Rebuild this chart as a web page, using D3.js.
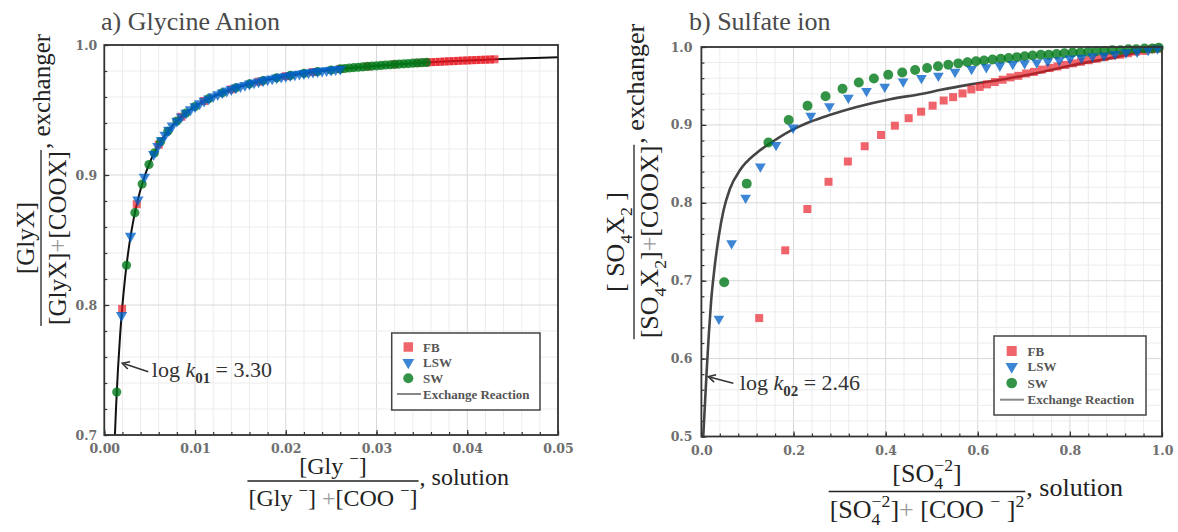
<!DOCTYPE html>
<html><head><meta charset="utf-8">
<script src="https://cdn.jsdelivr.net/npm/d3@7"></script>
<style>body{margin:0;background:#fff}svg{display:block}text{white-space:pre}</style>
</head><body><svg id="c" width="1178" height="532"></svg>
<script>
// ---------------- DATA ----------------
const seriesNames = ["FB", "LSW", "SW", "Exchange Reaction"];
// Panel a) Glycine anion
const xTicksA = [0, 0.01, 0.02, 0.03, 0.04, 0.05];
const yTicksA = [0.7, 0.8, 0.9, 1.0];
const curveA = [[0.0011,0.687],[0.00117,0.700],[0.0013,0.722],[0.0015,0.7498],[0.00175,0.7776],[0.002,0.7999],[0.00225,0.8182],[0.0025,0.8333],[0.00275,0.8462],[0.003,0.8572],[0.0035,0.8751],[0.004,0.8890],[0.0045,0.9002],[0.005,0.9093],[0.0055,0.9169],[0.006,0.9233],[0.0065,0.9288],[0.007,0.9336],[0.008,0.9415],[0.009,0.9477],[0.010,0.9527],[0.0115,0.9587],[0.013,0.9633],[0.015,0.9681],[0.0175,0.9726],[0.020,0.9760],[0.0225,0.9787],[0.025,0.9808],[0.0275,0.9826],[0.030,0.9840],[0.0325,0.9853],[0.035,0.9864],[0.0375,0.9873],[0.040,0.9881],[0.0425,0.9888],[0.045,0.9895],[0.0475,0.9900],[0.050,0.9906]];
const FB_A = [[0.00196,0.797],[0.00358,0.8775],[0.0060,0.9233],[0.0085,0.9448],[0.0110,0.9569],[0.0140,0.9659],[0.0170,0.9718],[0.0200,0.9760],[0.0230,0.9792],[0.0260,0.9816],[0.0290,0.9835],[0.0320,0.9851],[0.0345,0.9862],[0.0355,0.9866],[0.0360,0.9868],[0.0365,0.9869],[0.0370,0.9871],[0.0375,0.9873],[0.0380,0.9875],[0.0385,0.9876],[0.0390,0.9878],[0.0395,0.9880],[0.0400,0.9881],[0.0405,0.9883],[0.0410,0.9884],[0.0415,0.9886],[0.0420,0.9887],[0.0425,0.9888],[0.0430,0.9890]];
const LSW_A = [[0.0019,0.792],[0.0029,0.853],[0.0037,0.881],[0.00442,0.8985],[0.00544,0.916],[0.0059,0.9221],[0.0063,0.9267],[0.0067,0.9308],[0.0071,0.9345],[0.0075,0.9378],[0.0080,0.9415],[0.0085,0.9448],[0.0090,0.9477],[0.0095,0.9503],[0.0100,0.9527],[0.0105,0.9549],[0.0110,0.9569],[0.0115,0.9587],[0.0120,0.9604],[0.0125,0.9619],[0.0130,0.9633],[0.0135,0.9647],[0.0140,0.9659],[0.0145,0.9671],[0.0150,0.9681],[0.0155,0.9691],[0.0160,0.9701],[0.0165,0.9710],[0.0170,0.9718],[0.0175,0.9726],[0.0180,0.9734],[0.0185,0.9741],[0.0190,0.9748],[0.0195,0.9754],[0.0200,0.9760],[0.0205,0.9766],[0.0210,0.9772],[0.0215,0.9777],[0.0220,0.9782],[0.0225,0.9787],[0.0230,0.9792],[0.0235,0.9796],[0.0240,0.9800],[0.0245,0.9804],[0.0250,0.9808],[0.0255,0.9812],[0.0260,0.9816]];
const SW_A = [[0.00137,0.733],[0.00245,0.8306],[0.00337,0.871],[0.00417,0.893],[0.00492,0.908],[0.00551,0.917],[0.0062,0.9256],[0.0070,0.9336],[0.0080,0.9415],[0.0090,0.9477],[0.0100,0.9527],[0.0115,0.9587],[0.0130,0.9633],[0.0145,0.9671],[0.0160,0.9701],[0.0175,0.9726],[0.0190,0.9748],[0.0205,0.9766],[0.0220,0.9782],[0.0235,0.9796],[0.0250,0.9808],[0.0260,0.9816],[0.0265,0.9819],[0.0270,0.9823],[0.0275,0.9826],[0.0280,0.9829],[0.0285,0.9832],[0.0290,0.9835],[0.0295,0.9838],[0.0300,0.9840],[0.0305,0.9843],[0.0310,0.9846],[0.0315,0.9848],[0.0320,0.9851],[0.0325,0.9853],[0.0330,0.9855],[0.0335,0.9857],[0.0340,0.9860],[0.0345,0.9862],[0.0350,0.9864],[0.0355,0.9866]];

// Panel b) Sulfate ion
const xTicksB = [0, 0.2, 0.4, 0.6, 0.8, 1.0];
const yTicksB = [0.5, 0.6, 0.7, 0.8, 0.9, 1.0];
const curveB = [[0.004,0.50],[0.008,0.545],[0.012,0.59],[0.016,0.63],[0.021,0.673],[0.028,0.714],[0.038,0.758],[0.048,0.790],[0.062,0.818],[0.084,0.842],[0.12,0.864],[0.156,0.879],[0.192,0.892],[0.236,0.904],[0.28,0.913],[0.337,0.923],[0.41,0.933],[0.48,0.940],[0.52,0.945],[0.585,0.952],[0.66,0.959],[0.74,0.968],[0.80,0.976],[0.90,0.987],[1.0,1.0]];
const FB_B = [[0.1255,0.652],[0.182,0.739],[0.230,0.792],[0.276,0.827],[0.318,0.853],[0.3545,0.8726],[0.390,0.887],[0.420,0.899],[0.450,0.9086],[0.477,0.917],[0.502,0.9247],[0.526,0.9313],[0.5465,0.9356],[0.567,0.9404],[0.586,0.9456],[0.604,0.9487],[0.620,0.952],[0.637,0.955],[0.654,0.958],[0.671,0.961],[0.688,0.963],[0.705,0.966],[0.722,0.968],[0.739,0.971],[0.756,0.973],[0.773,0.975],[0.790,0.977],[0.807,0.979],[0.824,0.981],[0.841,0.983],[0.858,0.985],[0.875,0.987],[0.892,0.989],[0.909,0.990],[0.926,0.992],[0.943,0.994],[0.960,0.995],[0.977,0.997],[0.990,0.998]];
const LSW_B = [[0.038,0.651],[0.0656,0.748],[0.096,0.8064],[0.128,0.8464],[0.162,0.874],[0.199,0.8964],[0.2375,0.9117],[0.278,0.9238],[0.319,0.9347],[0.3584,0.9435],[0.398,0.949],[0.438,0.9556],[0.4777,0.960],[0.5145,0.963],[0.5506,0.968],[0.5866,0.9717],[0.6185,0.974],[0.648,0.976],[0.676,0.978],[0.7017,0.979],[0.728,0.980],[0.752,0.9817],[0.777,0.983],[0.800,0.985],[0.825,0.986],[0.849,0.988],[0.874,0.989],[0.898,0.991],[0.922,0.993],[0.946,0.994],[0.970,0.996],[0.990,0.998]];
const SW_B = [[0.0495,0.698],[0.0984,0.8246],[0.1455,0.8773],[0.1895,0.9064],[0.2304,0.9247],[0.2696,0.9369],[0.3064,0.9465],[0.3417,0.9543],[0.3745,0.9595],[0.4056,0.9643],[0.436,0.9673],[0.464,0.9704],[0.490,0.973],[0.5137,0.9752],[0.536,0.9773],[0.5577,0.979],[0.5777,0.9804],[0.5962,0.9817],[0.6136,0.9826],[0.632,0.9839],[0.650,0.985],[0.667,0.986],[0.685,0.987],[0.702,0.988],[0.719,0.989],[0.737,0.990],[0.754,0.990],[0.771,0.991],[0.788,0.992],[0.806,0.993],[0.823,0.993],[0.840,0.994],[0.858,0.995],[0.875,0.995],[0.892,0.996],[0.910,0.996],[0.927,0.997],[0.944,0.997],[0.962,0.998],[0.979,0.998],[0.993,0.999]];

// ---------------- STYLE ----------------
const SERIF = "'Liberation Serif','Times New Roman',serif";
const TICKF = "'DejaVu Serif',serif";
const style = {
  FB:  {sym: d3.symbolSquare,   color: "#e8141e", op: 0.66, rot: 0},
  LSW: {sym: d3.symbolTriangle, color: "#0060c8", op: 0.76, rot: 180},
  SW:  {sym: d3.symbolCircle,   color: "#007818", op: 0.8,  rot: 0}
};
const svg = d3.select("#c");

function mathRow(g, segs, size) {
  let x = 0, lastStart = 0;
  segs.forEach(s => {
    const sc = s.sc || 1;
    const start = s.stack ? lastStart : x;
    const t = g.append("text").attr("x", start).attr("y", (s.dy || 0) * size)
      .attr("font-size", size * sc).attr("fill", s.fill || "#222").text(s.t);
    if (s.it) t.attr("font-style", "italic");
    if (s.b) t.attr("font-weight", "bold");
    const w = t.node().getComputedTextLength();
    if (!s.stack) lastStart = start;
    x = Math.max(x, start + w);
  });
  return x;
}
function fraction(tr, num, den, tail, size, o) {
  const g = svg.append("g").attr("font-family", SERIF).attr("transform", tr);
  const ng = g.append("g"), dg = g.append("g");
  const nw = mathRow(ng, num, size), dw = mathRow(dg, den, size);
  const L = Math.max(nw, dw) + 2;
  ng.attr("transform", `translate(${-nw / 2},${o.numBase})`);
  dg.attr("transform", `translate(${-dw / 2},${o.denBase})`);
  g.append("line").attr("x1", -L / 2).attr("x2", L / 2).attr("stroke", "#222").attr("stroke-width", 1.3);
  const tg = g.append("g").attr("transform", `translate(${L / 2 + 1},${o.tailBase})`);
  mathRow(tg, tail, size);
}

function panel(cfg) {
  const x = d3.scaleLinear().domain(cfg.xDom).range([cfg.left, cfg.right]);
  const y = d3.scaleLinear().domain(cfg.yDom).range([cfg.bottom, cfg.top]);
  const g = svg.append("g");
  const clipId = "clip" + cfg.id;
  svg.append("clipPath").attr("id", clipId).append("rect")
    .attr("x", cfg.left).attr("y", cfg.top).attr("width", cfg.right - cfg.left).attr("height", cfg.bottom - cfg.top);
  // grid
  const gx = d3.range(cfg.xDom[0], cfg.xDom[1] + 1e-9, cfg.xMinor);
  const gy = d3.range(cfg.yDom[0], cfg.yDom[1] + 1e-9, cfg.yMinor);
  g.append("g").selectAll("line").data(gx).join("line")
    .attr("x1", d => x(d)).attr("x2", d => x(d)).attr("y1", cfg.top).attr("y2", cfg.bottom)
    .attr("stroke", (d, i) => i % 5 === 0 ? "#d8d8d8" : "#ececec").attr("stroke-width", 1);
  g.append("g").selectAll("line").data(gy).join("line")
    .attr("y1", d => y(d)).attr("y2", d => y(d)).attr("x1", cfg.left).attr("x2", cfg.right)
    .attr("stroke", (d, i) => i % 5 === 0 ? "#d8d8d8" : "#ececec").attr("stroke-width", 1);
  // axes
  const styleAxis = sel => {
    sel.select(".domain").remove();
    sel.selectAll("line").attr("stroke", "#333").attr("stroke-width", 1.2);
    sel.selectAll("text").attr("font-family", TICKF).attr("font-size", 12.5)
      .attr("font-weight", "bold").attr("fill", "#6e6e6e");
  };
  g.append("g").attr("transform", `translate(0,${cfg.bottom})`)
    .call(d3.axisBottom(x).tickValues(gx).tickSize(-3).tickFormat("")).call(styleAxis);
  g.append("g").attr("transform", `translate(${cfg.left},0)`)
    .call(d3.axisLeft(y).tickValues(gy).tickSize(-3).tickFormat("")).call(styleAxis);
  g.append("g").attr("transform", `translate(0,${cfg.bottom})`)
    .call(d3.axisBottom(x).tickValues(cfg.xTicks).tickSizeInner(-5).tickSizeOuter(0).tickPadding(cfg.xPad).tickFormat(d3.format(cfg.xFmt))).call(styleAxis);
  g.append("g").attr("transform", `translate(${cfg.left},0)`)
    .call(d3.axisLeft(y).tickValues(cfg.yTicks).tickSizeInner(-5).tickSizeOuter(0).tickPadding(cfg.yPad).tickFormat(d3.format(".1f"))).call(styleAxis);
  // curve
  g.append("path").datum(cfg.curve).attr("clip-path", `url(#${clipId})`)
    .attr("d", d3.line().x(d => x(d[0])).y(d => y(d[1])).curve(d3.curveMonotoneX))
    .attr("fill", "none").attr("stroke", cfg.curveColor).attr("stroke-width", cfg.curveW);
  // markers: draw order FB, SW, LSW
  [["FB", cfg.FB], ["SW", cfg.SW], ["LSW", cfg.LSW]].forEach(([name, data]) => {
    const st = style[name];
    g.append("g").selectAll("path").data(data).join("path")
      .attr("d", d3.symbol().type(st.sym).size(cfg.sizes[name]))
      .attr("transform", d => `translate(${x(d[0])},${y(d[1])}) rotate(${st.rot})`)
      .attr("fill", st.color).attr("fill-opacity", st.op);
  });
  // frame
  g.append("rect").attr("x", cfg.left).attr("y", cfg.top).attr("width", cfg.right - cfg.left)
    .attr("height", cfg.bottom - cfg.top).attr("fill", "none").attr("stroke", "#333").attr("stroke-width", 1.8);
  // annotation
  const a = cfg.anno;
  const tx = x(a.x), ty = y(a.y);
  const ax = tx + a.dx, ay = ty + a.dy;
  g.append("line").attr("x1", ax).attr("y1", ay).attr("x2", tx + 2).attr("y2", ty + 0.6)
    .attr("stroke", "#333").attr("stroke-width", 1.6);
  const ang = Math.atan2(ay - ty, ax - tx);
  const hl = 8, hw = 0.5;
  g.append("path").attr("d", `M${tx + hl * Math.cos(ang + hw)},${ty + hl * Math.sin(ang + hw)} L${tx},${ty} L${tx + hl * Math.cos(ang - hw)},${ty + hl * Math.sin(ang - hw)}`)
    .attr("fill", "none").attr("stroke", "#333").attr("stroke-width", 1.6);
  const ag = g.append("g").attr("font-family", SERIF).attr("transform", `translate(${ax + a.tdx},${ay + a.tdy})`);
  mathRow(ag, [{t: "log\u00A0", fill: "#333"}, {t: "k", it: true, fill: "#333"}, {t: a.sub, sc: 0.68, dy: 0.28, b: true, fill: "#333"}, {t: "\u00A0=\u00A0" + a.val, fill: "#333"}], 22);
  // legend
  const L = cfg.legend;
  const lg = g.append("g");
  lg.append("rect").attr("x", L.x).attr("y", L.y).attr("width", L.w).attr("height", L.h)
    .attr("fill", "#fff").attr("stroke", "#444").attr("stroke-width", 1.5);
  seriesNames.forEach((n, i) => {
    const yy = L.rows[i];
    if (style[n]) {
      const st = style[n];
      lg.append("path").attr("d", d3.symbol().type(st.sym).size(L.msize[n]))
        .attr("transform", `translate(${L.mx},${yy}) rotate(${st.rot})`)
        .attr("fill", st.color).attr("fill-opacity", st.op);
    } else {
      lg.append("line").attr("x1", L.lx0).attr("x2", L.lx1).attr("y1", yy).attr("y2", yy)
        .attr("stroke", "#888").attr("stroke-width", 2);
    }
    lg.append("text").attr("x", L.tx).attr("y", yy).attr("dy", "0.35em")
      .attr("font-family", SERIF).attr("font-weight", "bold").attr("font-size", 13)
      .attr("fill", "#555").text(n);
  });
  // title
  svg.append("text").attr("x", cfg.titleX).attr("y", 30).attr("font-family", SERIF)
    .attr("font-size", 26).attr("fill", "#4a4a4a").text(cfg.title);
}

panel({
  id: "A", title: "a) Glycine Anion", titleX: 101,
  left: 104.3, right: 558, top: 45, bottom: 435,
  xDom: [0, 0.05], yDom: [0.7, 1.0], xMinor: 0.002, yMinor: 0.02,
  xTicks: xTicksA, yTicks: yTicksA, xFmt: ".2f", xPad: 9, yPad: 7,
  curve: curveA, curveColor: "#111", curveW: 2,
  FB: FB_A, LSW: LSW_A, SW: SW_A,
  sizes: {FB: 64, LSW: 56, SW: 66},
  anno: {x: 0.00198, y: 0.7552, dx: 26, dy: 8.4, tdx: 3.5, tdy: 5.5, sub: "01", val: "3.30"},
  legend: {x: 391.7, y: 333, w: 148.3, h: 77, mx: 408.3, tx: 423, lx0: 397, lx1: 421,
    rows: [347, 362.5, 378.3, 394], msize: {FB: 90, LSW: 60, SW: 80}}
});
panel({
  id: "B", title: "b) Sulfate ion", titleX: 689,
  left: 701.4, right: 1162, top: 47, bottom: 436.5,
  xDom: [0, 1], yDom: [0.5, 1.0], xMinor: 0.04, yMinor: 0.02,
  xTicks: xTicksB, yTicks: yTicksB, xFmt: ".1f", xPad: 10, yPad: 9,
  curve: curveB, curveColor: "#454545", curveW: 2.6,
  FB: FB_B, LSW: LSW_B, SW: SW_B,
  sizes: {FB: 64, LSW: 50, SW: 78},
  anno: {x: 0.015, y: 0.5768, dx: 25, dy: 6.6, tdx: 6.5, tdy: 6.5, sub: "02", val: "2.46"},
  legend: {x: 994, y: 336, w: 152, h: 79, mx: 1011.7, tx: 1027.6, lx0: 1000, lx1: 1024,
    rows: [351, 366.5, 383, 399.7], msize: {FB: 100, LSW: 66, SW: 90}}
});

// axis labels (fractions)
const M = "\u2212";
fraction("translate(333,481)",
  [{t: "[Gly\u00A0"}, {t: M, sc: 0.7, dy: -0.42}, {t: "]"}],
  [{t: "[Gly\u00A0"}, {t: M, sc: 0.7, dy: -0.42}, {t: "]\u00A0"}, {t: "+", fill: "#9a9a9a"}, {t: "[COO\u00A0"}, {t: M, sc: 0.7, dy: -0.42}, {t: "]"}],
  [{t: ",\u00A0solution"}], 24, {numBase: -7, denBase: 25, tailBase: 4});
fraction("translate(41,238) rotate(-90)",
  [{t: "[GlyX]"}],
  [{t: "[GlyX]"}, {t: "+", fill: "#9a9a9a"}, {t: "[COOX]"}],
  [{t: ",\u00A0exchanger"}], 25, {numBase: -7, denBase: 25, tailBase: 9});
fraction("translate(927,491.5)",
  [{t: "[SO"}, {t: "4", sc: 0.68, dy: 0.3}, {t: M + "2", sc: 0.68, dy: -0.42, stack: true}, {t: "]"}],
  [{t: "[SO"}, {t: "4", sc: 0.68, dy: 0.3}, {t: M + "2", sc: 0.68, dy: -0.42, stack: true}, {t: "]"}, {t: "+", fill: "#9a9a9a"}, {t: "\u00A0[COO\u00A0"}, {t: M, sc: 0.68, dy: -0.42}, {t: "\u00A0]"}, {t: "2", sc: 0.68, dy: -0.42}],
  [{t: ",\u00A0solution"}], 26, {numBase: -10, denBase: 26, tailBase: 4});
fraction("translate(634,242) rotate(-90)",
  [{t: "[\u00A0SO"}, {t: "4", sc: 0.68, dy: 0.3}, {t: "X"}, {t: "2", sc: 0.68, dy: 0.3}, {t: "\u00A0]"}],
  [{t: "[SO"}, {t: "4", sc: 0.68, dy: 0.3}, {t: "X"}, {t: "2", sc: 0.68, dy: 0.3}, {t: "]"}, {t: "+", fill: "#9a9a9a"}, {t: "[COOX]"}],
  [{t: ",\u00A0exchanger"}], 26, {numBase: -10, denBase: 24, tailBase: 10});
</script></body></html>
